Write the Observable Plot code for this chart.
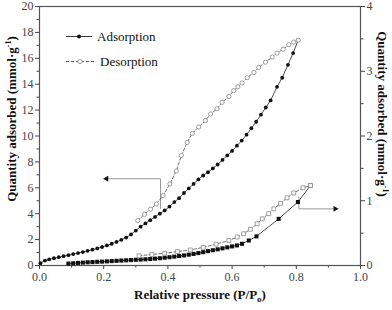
<!DOCTYPE html>
<html><head><meta charset="utf-8">
<script src="https://cdn.jsdelivr.net/npm/d3@7"></script>
<script src="https://cdn.jsdelivr.net/npm/@observablehq/plot@0.6"></script>
<style>
body{margin:0;background:#fff;}
#chart{width:392px;height:310px;}
</style></head><body><div id="chart"></div>
<script>
// Adsorption (left axis, mmol/g), filled circles
const adsCircX = [0.003,0.017,0.03,0.045,0.06,0.075,0.09,0.105,0.12,0.135,0.15,0.165,0.18,0.195,0.21,0.225,0.24,0.255,0.27,0.285,0.30,0.315,0.33,0.345,0.36,0.375,0.39,0.405,0.42,0.435,0.45,0.465,0.48,0.495,0.51,0.525,0.54,0.555,0.57,0.585,0.60,0.615,0.63,0.645,0.66,0.675,0.69,0.705,0.72,0.74,0.756,0.774,0.79,0.806];
const adsCircY = [0.18,0.38,0.47,0.56,0.64,0.72,0.8,0.88,0.96,1.04,1.13,1.22,1.32,1.43,1.55,1.68,1.82,1.98,2.16,2.4,2.7,3.0,3.25,3.5,3.75,4.0,4.25,4.55,4.9,5.2,5.6,5.95,6.3,6.65,6.95,7.2,7.5,7.8,8.15,8.5,8.85,9.25,9.65,10.1,10.6,11.1,11.65,12.2,12.75,13.8,14.5,15.5,16.4,17.4];
// Desorption (left axis), open circles
const desCircX = [0.306,0.327,0.346,0.364,0.385,0.406,0.426,0.442,0.46,0.476,0.496,0.517,0.533,0.553,0.569,0.59,0.605,0.618,0.631,0.647,0.668,0.683,0.704,0.725,0.74,0.759,0.777,0.792,0.806];
const desCircY = [3.47,3.95,4.35,4.75,5.4,6.3,7.3,8.5,9.5,10.2,10.7,11.2,11.7,12.1,12.6,13.05,13.5,13.8,14.1,14.5,14.9,15.3,15.7,16.1,16.4,16.7,17.05,17.25,17.4];
// Adsorption (right axis), filled squares
const adsSqX = [0.09,0.105,0.12,0.135,0.15,0.165,0.18,0.195,0.21,0.225,0.24,0.255,0.27,0.285,0.30,0.315,0.33,0.345,0.36,0.375,0.39,0.405,0.42,0.435,0.45,0.465,0.48,0.495,0.51,0.525,0.54,0.555,0.57,0.585,0.60,0.615,0.631,0.652,0.676,0.745,0.805,0.844];
const adsSqY = [0.03,0.035,0.04,0.045,0.05,0.053,0.057,0.06,0.064,0.068,0.072,0.076,0.08,0.084,0.088,0.092,0.096,0.1,0.106,0.112,0.12,0.128,0.137,0.146,0.156,0.167,0.179,0.192,0.206,0.222,0.236,0.25,0.265,0.28,0.295,0.31,0.335,0.386,0.45,0.72,0.98,1.235];
// Desorption (right axis), open squares
const desSqX = [0.31,0.35,0.39,0.43,0.47,0.51,0.55,0.59,0.616,0.636,0.657,0.678,0.694,0.714,0.73,0.751,0.771,0.792,0.821,0.844];
const desSqY = [0.15,0.17,0.19,0.215,0.24,0.28,0.33,0.386,0.44,0.49,0.56,0.644,0.72,0.8,0.875,0.96,1.045,1.12,1.2,1.235];

// Axis ticks
const xTicks = [0,0.2,0.4,0.6,0.8,1.0];
const xMinor = [0.1,0.3,0.5,0.7,0.9];
const yLeftTicks = [0,2,4,6,8,10,12,14,16,18,20];
const yLeftMinor = [1,3,5,7,9,11,13,15,17,19];
const yRightTicks = [0,1,2,3,4];
const yRightMinor = [0.5,1.5,2.5,3.5];

// Annotation arrows (data units)
const leftArrowX = [0.377,0.377,0.215];
const leftArrowY = [4.4,6.7,6.7];   // left-axis units
const rightArrowX = [0.808,0.808,0.915];
const rightArrowY = [1.06,0.875,0.875]; // right-axis units

const R = 5; // right axis (0-4) mapped onto left axis (0-20)
const rows = (xs, ys, k=1) => xs.map((x,i)=>({x, y: ys[i]*k}));
const ads = rows(adsCircX, adsCircY), des = rows(desCircX, desCircY);
const adsS = rows(adsSqX, adsSqY, R), desS = rows(desSqX, desSqY, R);
const la = rows(leftArrowX, leftArrowY), ra = rows(rightArrowX, rightArrowY, R);

const serif = "'Liberation Serif','Times New Roman',serif";
const plot = Plot.plot({
  width: 392, height: 310,
  marginLeft: 39, marginRight: 32, marginTop: 6, marginBottom: 45,
  x: {domain: [0,1]},
  y: {domain: [0,20]},
  style: {fontFamily: serif, fontSize: "12px", color: "#444", background: "white", overflow: "visible"},
  marks: [
    Plot.axisX({ticks: xTicks, tickSize: 4, tickPadding: 3, tickFormat: d3.format(".1f"), label: null, stroke: "#444"}),
    Plot.axisX({ticks: xMinor, tickSize: 2.5, tickFormat: () => "", label: null, stroke: "#444"}),
    Plot.axisY({ticks: yLeftTicks, tickSize: 4, tickPadding: 2, tickFormat: d => String(d), label: null, stroke: "#444"}),
    Plot.axisY({ticks: yLeftMinor, tickSize: 2.5, tickFormat: () => "", label: null, stroke: "#444"}),
    Plot.axisY({anchor: "right", ticks: yRightTicks.map(v=>v*R), tickSize: 4, tickPadding: 2, tickFormat: d => String(d/R), label: null, stroke: "#444"}),
    Plot.axisY({anchor: "right", ticks: yRightMinor.map(v=>v*R), tickSize: 2.5, tickFormat: () => "", label: null, stroke: "#444"}),
    Plot.frame({stroke: "#555", strokeWidth: 1.2}),
    // annotation arrows
    Plot.line(la, {x: "x", y: "y", stroke: "#999", strokeWidth: 1, curve: "linear"}),
    Plot.dot([la[2]], {x: "x", y: "y", symbol: "triangle", r: 2.2, fill: "#111", stroke: "none", rotate: -90, dx: -2}),
    Plot.line(ra, {x: "x", y: "y", stroke: "#999", strokeWidth: 1}),
    Plot.dot([ra[2]], {x: "x", y: "y", symbol: "triangle", r: 2.2, fill: "#111", stroke: "none", rotate: 90, dx: 2}),
    // series
    Plot.line(des, {x: "x", y: "y", stroke: "#333", strokeWidth: 0.7, strokeDasharray: "3,2"}),
    Plot.line(ads, {x: "x", y: "y", stroke: "#222", strokeWidth: 0.8}),
    Plot.line(desS, {x: "x", y: "y", stroke: "#333", strokeWidth: 0.7, strokeDasharray: "3,2"}),
    Plot.line(adsS, {x: "x", y: "y", stroke: "#222", strokeWidth: 0.8}),
    Plot.dot(ads, {x: "x", y: "y", r: 1.9, fill: "#111", stroke: "none"}),
    Plot.dot(des, {x: "x", y: "y", r: 2.1, fill: "white", stroke: "#888", strokeWidth: 0.8}),
    Plot.dot(adsS, {x: "x", y: "y", symbol: "square", r: 2.3, fill: "#111", stroke: "none"}),
    Plot.dot(desS, {x: "x", y: "y", symbol: "square", r: 2.2, fill: "white", stroke: "#888", strokeWidth: 0.8})
  ]
});
document.getElementById("chart").appendChild(plot);

// Titles and legend
const svg = d3.select(plot);
const bold = {"font-family": serif, "font-weight": "bold", "font-size": "13px", fill: "#111"};
function applyAttrs(sel, o){ for (const k in o) sel.attr(k, o[k]); return sel; }

const xt = applyAttrs(svg.append("text"), bold).attr("x", 200).attr("y", 299).attr("text-anchor", "middle");
xt.append("tspan").text("Relative pressure (P/P");
xt.append("tspan").attr("font-size", "9px").attr("dy", 3).text("o");
xt.append("tspan").attr("dy", -3).text(")");

const lt = applyAttrs(svg.append("text"), bold).attr("text-anchor", "middle").attr("transform", "translate(16,119) rotate(-90)");
lt.append("tspan").text("Quantity adsorbed (mmol·g");
lt.append("tspan").attr("font-size", "8px").attr("dy", -5).text("-1");
lt.append("tspan").attr("dy", 5).text(")");

const rt = applyAttrs(svg.append("text"), bold).attr("text-anchor", "middle").attr("transform", "translate(378,114) rotate(90)");
rt.append("tspan").text("Quantity adsorbed (mmol·g");
rt.append("tspan").attr("font-size", "8px").attr("dy", -5).text("-1");
rt.append("tspan").attr("dy", 5).text(")");

const lg = svg.append("g").attr("text-anchor", "start");
lg.append("line").attr("x1", 66).attr("x2", 92).attr("y1", 36.5).attr("y2", 36.5).attr("stroke", "#222").attr("stroke-width", 0.9);
lg.append("circle").attr("cx", 79).attr("cy", 36.5).attr("r", 2).attr("fill", "#111");
lg.append("text").attr("x", 97).attr("y", 41).attr("text-anchor", "start").attr("font-family", serif).attr("font-size", "13px").attr("fill", "#111").text("Adsorption");
lg.append("line").attr("x1", 66).attr("x2", 95).attr("y1", 61.5).attr("y2", 61.5).attr("stroke", "#333").attr("stroke-width", 0.8).attr("stroke-dasharray", "3,2");
lg.append("circle").attr("cx", 80).attr("cy", 61.5).attr("r", 2.1).attr("fill", "white").attr("stroke", "#888").attr("stroke-width", 0.8);
lg.append("text").attr("x", 100).attr("y", 66).attr("text-anchor", "start").attr("font-family", serif).attr("font-size", "13px").attr("fill", "#111").text("Desorption");
</script></body></html>
